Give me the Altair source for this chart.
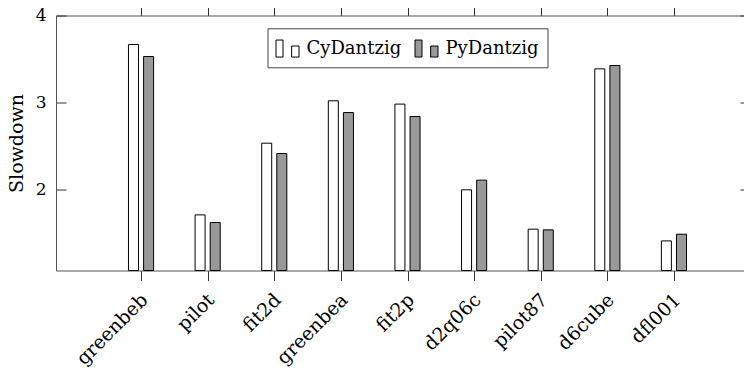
import json
import altair as alt
import pandas as pd

categories = ["greenbeb", "pilot", "fit2d", "greenbea", "fit2p",
              "d2q06c", "pilot87", "d6cube", "dfl001"]
cy_values = [3.667, 1.709, 2.533, 3.020, 2.982, 1.997, 1.545, 3.387, 1.410]
py_values = [3.529, 1.621, 2.414, 2.885, 2.839, 2.108, 1.537, 3.425, 1.487]
series_names = ["CyDantzig", "PyDantzig"]
y_ticks = [2, 3, 4]

rows = []
for i, c in enumerate(categories):
    rows.append({"idx": i, "category": c, "series": series_names[0], "value": cy_values[i]})
    rows.append({"idx": i, "category": c, "series": series_names[1], "value": py_values[i]})
df = pd.DataFrame(rows)

FONT = "DejaVu Serif"
YMIN = 1.07
xscale = alt.Scale(domain=[-1.203, 8.975], nice=False, zero=False)
yscale = alt.Scale(domain=[YMIN, 4], nice=False, zero=False)

legend_symbol = ("M-1,-0.74L-0.39,-0.74L-0.39,0.74L-1,0.74Z "
                 "M0.36,-0.22L1,-0.22L1,0.74L0.36,0.74Z")

label_expr = json.dumps(categories) + "[datum.value]"

base = alt.Chart(df).transform_calculate(
    pos="datum.idx + (datum.series == 'CyDantzig' ? -0.115 : 0.112)"
)

bars = base.mark_bar(width=10, stroke="black", strokeWidth=1).encode(
    x=alt.X("pos:Q", scale=xscale, axis=alt.Axis(
        orient="bottom", values=list(range(len(categories))), labelExpr=label_expr,
        labelAngle=-45, labelAlign="right", labelBaseline="middle",
        labelPadding=16, labelOffset=3, tickSize=10, domain=True, grid=False,
        title=None, labelFont=FONT, labelFontSize=19, labelColor="black",
        tickColor="#333", domainColor="#555", labelOverlap=False, labelBound=False,
        labelFlush=False)),
    y=alt.Y("value:Q", scale=yscale, axis=alt.Axis(
        orient="left", values=y_ticks, offset=-10, tickSize=10, domain=False,
        grid=False, labelPadding=10, title="Slowdown", titlePadding=9,
        titleFont=FONT, titleFontSize=19, titleFontWeight="normal", titleColor="black",
        labelFont=FONT, labelFontSize=17, labelColor="black", tickColor="#333",
        labelFlush=False)),
    y2=alt.datum(YMIN),
    fill=alt.Fill("series:N", scale=alt.Scale(domain=series_names, range=["white", "#999999"]),
                  legend=alt.Legend(
                      title=None, orient="none", legendX=211.5, legendY=12.8,
                      direction="horizontal", symbolType=legend_symbol, symbolSize=529,
                      symbolStrokeColor="black", symbolStrokeWidth=1, symbolOpacity=1,
                      labelFont=FONT, labelFontSize=18, labelColor="black",
                      labelOffset=7, columnPadding=11, padding=8,
                      strokeColor="#444", fillColor="white",
                      labelExpr="datum.label == 'PyDantzig' ? datum.label + '\u00a0\u00a0' : datum.label")),
)

frame = base.mark_bar(opacity=0).encode(
    x=alt.X("pos:Q", scale=xscale, axis=alt.Axis(
        orient="top", values=list(range(len(categories))), labels=False,
        tickSize=11, domain=True, grid=False, title=None,
        tickColor="#333", domainColor="#555")),
    y=alt.Y("value:Q", scale=yscale, axis=alt.Axis(
        orient="left", values=y_ticks, ticks=False, labels=False, domain=True,
        grid=False, title=None, domainColor="#555")),
    y2=alt.datum(YMIN),
)

right = base.mark_bar(opacity=0).encode(
    x=alt.X("pos:Q", scale=xscale, axis=None),
    y=alt.Y("value:Q", scale=yscale, axis=alt.Axis(
        orient="right", values=y_ticks, offset=-4, tickSize=4, labels=False,
        domain=False, grid=False, title=None, tickColor="#333")),
    y2=alt.datum(YMIN),
)

chart = alt.layer(bars, frame, right).resolve_axis(
    x="independent", y="independent"
).properties(
    width=688, height=255,
    autosize=alt.AutoSizeParams(type="none"),
    padding={"left": 48, "top": 7.5, "right": 0, "bottom": 97.5},
).configure_view(stroke=None)

chart.save("out.html", embed_options={"renderer": "svg", "actions": False})
